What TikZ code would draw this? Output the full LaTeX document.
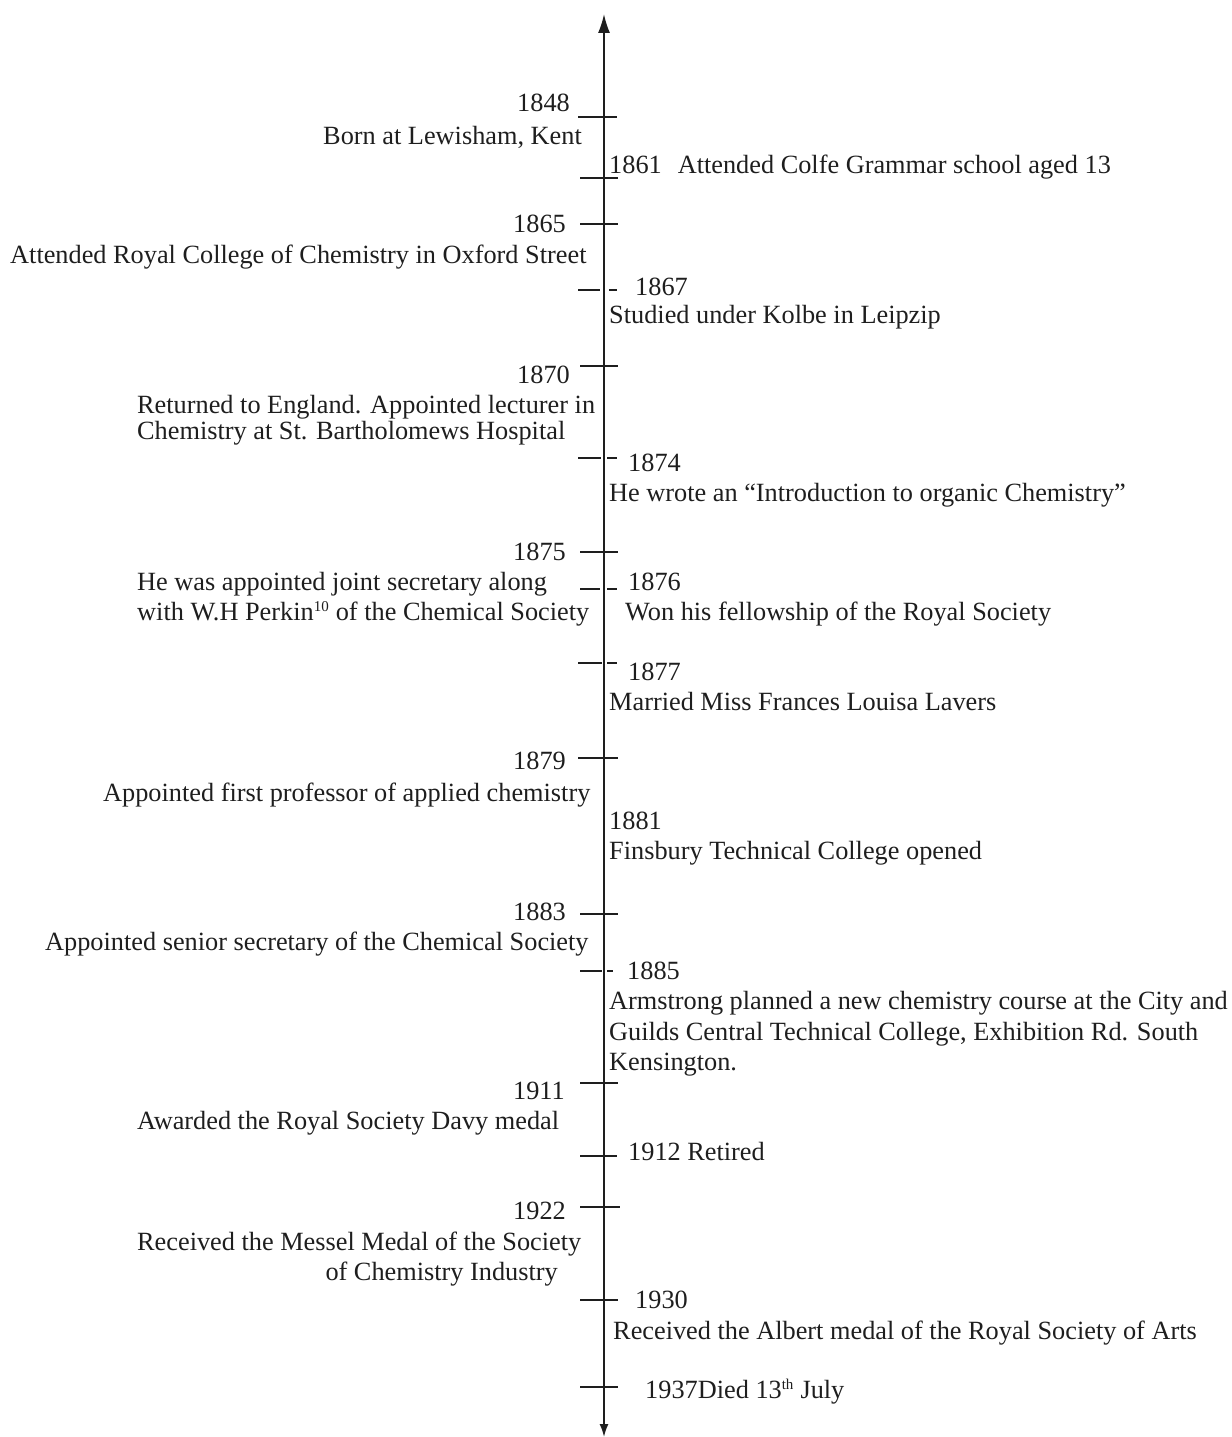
\documentclass[tikz,border=0pt]{standalone}
\usepackage{fontspec}
\setmainfont{Liberation Serif}
\usetikzlibrary{arrows.meta}
\definecolor{ink}{HTML}{1E1E1E}
\begin{document}
\begin{tikzpicture}[x=1pt,y=-1pt,
  lbl/.style={font=\fontsize{26.3}{30}\selectfont, text=ink, inner sep=0pt, text height=17.5pt, text depth=0pt},
  lt/.style={lbl, anchor=east},
  lw/.style={lbl, anchor=west},
  tick/.style={draw=ink, line width=1.5pt},
  axisline/.style={draw=ink, line width=1.7pt}]
\useasboundingbox (0,0) rectangle (1231,1437);
% axis
\coordinate (atop) at (604,14);
\coordinate (abot) at (604,1437);
\draw[axisline, {Latex[length=13pt,width=9pt]}-{Latex[length=19pt,width=12pt]}] (abot) -- (atop);
% full ticks
\foreach \y/\a/\b in {117/578/617,178/580/618,224/580/618,366/580/618,552/580/618,758/578/618,914/580/618,1083/580/618,1156/580/617,1207/580/620,1300/580/618,1387/580/618}{
  \draw[tick] (\a,\y) -- (\b,\y);
}
% gapped ticks
\foreach \y/\a/\b/\c/\d in {290/578/600/609/617,458/578/601/607/617,589/580/600/607/617,663/578/602/607/617,971/580/602/607/613}{
  \draw[tick] (\a,\y) -- (\b,\y);
  \draw[tick] (\c,\y) -- (\d,\y);
}
% left texts
\node[lt] (y1848) at (570,103) {1848};
\node[lt] (t1848) at (582,136) {Born at Lewisham, Kent};
\node[lt] (y1865) at (566,224) {1865};
\node[lw] (t1865) at (10,255) {Attended Royal College of Chemistry in Oxford Street};
\node[lt] (y1870) at (570,375) {1870};
\node[lw] (t1870a) at (137,405) {Returned to England. Appointed lecturer in};
\node[lw] (t1870b) at (137,431) {Chemistry at St. Bartholomews Hospital};
\node[lt] (y1875) at (566,552) {1875};
\node[lw] (t1875a) at (137,582) {He was appointed joint secretary along};
\node[lw] (t1875b) at (137,612) {with W.H Perkin\textsuperscript{\fontsize{15}{15}\selectfont 10} of the Chemical Society};
\node[lt] (y1879) at (566,761) {1879};
\node[lw] (t1879) at (103,793) {Appointed first professor of applied chemistry};
\node[lt] (y1883) at (566,912) {1883};
\node[lw] (t1883) at (45,942) {Appointed senior secretary of the Chemical Society};
\node[lt] (y1911) at (565,1091) {1911};
\node[lw] (t1911) at (137,1121) {Awarded the Royal Society Davy medal};
\node[lt] (y1922) at (566,1211) {1922};
\node[lw] (t1922a) at (137,1242) {Received the Messel Medal of the Society};
\node[lt] (t1922b) at (558,1272) {of Chemistry Industry};
% right texts
\node[lw] (t1861) at (609,165) {1861\hspace{16pt}Attended Colfe Grammar school aged 13};
\node[lw] (y1867) at (635,287) {1867};
\node[lw] (t1867) at (609,315) {Studied under Kolbe in Leipzip};
\node[lw] (y1874) at (628,463) {1874};
\node[lw] (t1874) at (609,493) {He wrote an “Introduction to organic Chemistry”};
\node[lw] (y1876) at (628,582) {1876};
\node[lw] (t1876) at (625,612) {Won his fellowship of the Royal Society};
\node[lw] (y1877) at (628,672) {1877};
\node[lw] (t1877) at (609,702) {Married Miss Frances Louisa Lavers};
\node[lw] (y1881) at (609,821) {1881};
\node[lw] (t1881) at (609,851) {Finsbury Technical College opened};
\node[lw] (y1885) at (627,971) {1885};
\node[lw] (t1885a) at (609,1001) {Armstrong planned a new chemistry course at the City and};
\node[lw] (t1885b) at (609,1032) {Guilds Central Technical College, Exhibition Rd. South};
\node[lw] (t1885c) at (609,1062) {Kensington.};
\node[lw] (t1912) at (628,1152) {1912 Retired};
\node[lw] (y1930) at (635,1300) {1930};
\node[lw] (t1930) at (613,1331) {Received the Albert medal of the Royal Society of Arts};
\node[lw] (t1937) at (645,1390) {1937Died 13\textsuperscript{\fontsize{15}{15}\selectfont th} July};
\end{tikzpicture}
\end{document}
